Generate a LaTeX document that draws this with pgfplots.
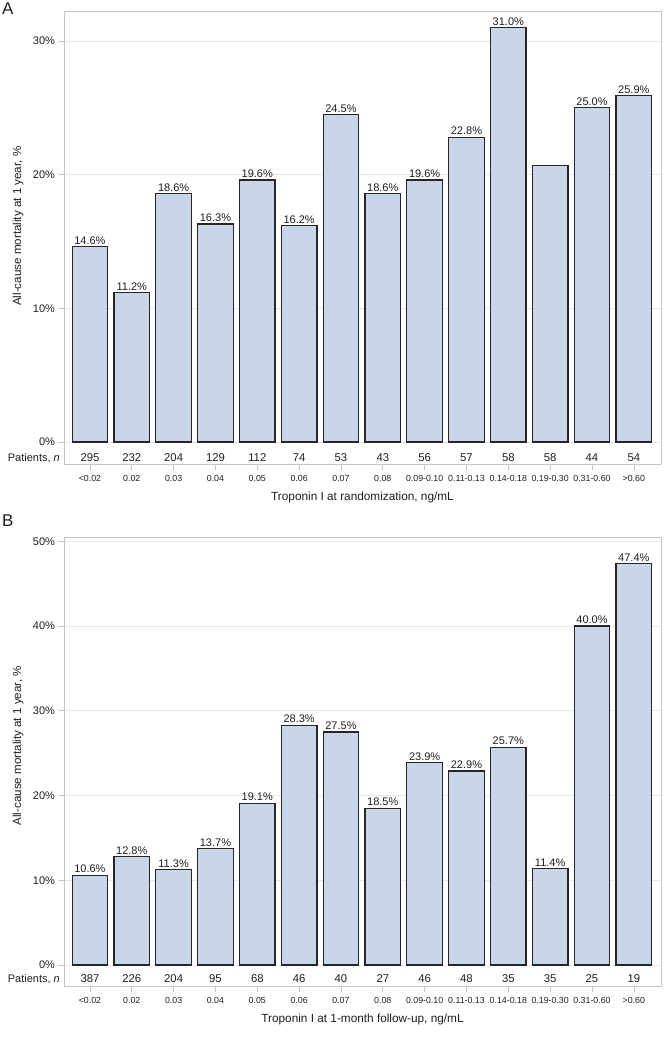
\documentclass[border=0pt]{standalone}
\usepackage{fontspec}
\setmainfont{Liberation Sans}
\usepackage{pgfplots}
\pgfplotsset{compat=1.18}
\definecolor{barfill}{HTML}{C9D5E8}
\definecolor{baredge}{HTML}{262626}
\definecolor{framec}{HTML}{C6C6C6}
\definecolor{gridc}{HTML}{E4E7EB}
\definecolor{txt}{HTML}{1E1E1E}
\newcommand\fs[1]{\fontsize{#1}{#1}\selectfont}
\pgfplotsset{
  panel/.style={
    scale only axis, width=597pt,
    xmin=-0.62, xmax=13.65,
    xtick={0,...,13},
    xticklabels={<0.02,0.02,0.03,0.04,0.05,0.06,0.07,0.08,0.09-0.10,0.11-0.13,0.14-0.18,0.19-0.30,0.31-0.60,>0.60},
    xtick pos=bottom, ytick pos=left,
    tick align=outside,
    x tick style={draw=framec, line width=0.6pt},
    y tick style={draw=framec, line width=0.6pt},
    major tick length=5.5pt,
    axis line style={draw=framec, line width=0.8pt},
    ymajorgrids, grid style={draw=gridc, line width=0.7pt},
    xticklabel style={font=\fs{8.8}, text=txt, yshift=-2.5pt},
    yticklabel style={font=\fs{11}, text=txt},
    xlabel style={font=\fs{11.8}, text=txt, at={(rel axis cs:0.5,0)}, anchor=center, yshift=-33pt},
    ylabel style={font=\fs{11.6}, text=txt, anchor=center},
    clip=false,
    /pgf/number format/assume math mode=true,
  },
  bars/.style={ybar, bar width=0.85, fill=barfill, draw=baredge, line width=1.2pt,
    nodes near coords, point meta=explicit symbolic,
    every node near coord/.style={anchor=south, font=\fs{11}, text=txt, inner sep=1.5pt}},
  pats/.style={draw=none, mark=none, nodes near coords, point meta=explicit symbolic,
    every node near coord/.style={anchor=center, font=\fs{11.3}, text=txt, inner sep=0pt}},
}
\begin{document}
\begin{tikzpicture}
\useasboundingbox (0pt,0pt) rectangle (669pt,-1038pt);
% Panel A
\begin{axis}[panel, at={(64pt,-11pt)}, anchor=north west, height=453pt,
  ymin=-1.65, ymax=32.24,
  ytick={0,10,20,30}, yticklabels={0\%,10\%,20\%,30\%},
  xlabel={Troponin I at randomization, ng/mL},
  ylabel={All-cause mortality at 1 year, \%},
  ylabel style={at={(axis description cs:-0.077,0.525)}}]
\addplot[bars] coordinates {
 (0,14.6)[14.6\%] (1,11.2)[11.2\%] (2,18.6)[18.6\%] (3,16.3)[16.3\%]
 (4,19.6)[19.6\%] (5,16.2)[16.2\%] (6,24.5)[24.5\%] (7,18.6)[18.6\%]
 (8,19.6)[19.6\%] (9,22.8)[22.8\%] (10,31.0)[31.0\%] (11,20.7)[]
 (12,25.0)[25.0\%] (13,25.9)[25.9\%]};
\addplot[pats] coordinates {
 (0,-1.2)[295] (1,-1.2)[232] (2,-1.2)[204] (3,-1.2)[129] (4,-1.2)[112]
 (5,-1.2)[74] (6,-1.2)[53] (7,-1.2)[43] (8,-1.2)[56] (9,-1.2)[57]
 (10,-1.2)[58] (11,-1.2)[58] (12,-1.2)[44] (13,-1.2)[54]};
\node[anchor=east, font=\fs{11}, text=txt, inner sep=0pt, xshift=-4pt] at (axis cs:-0.62,-1.2) {Patients, \textit{n}};
\end{axis}
% Panel B
\begin{axis}[panel, at={(64pt,-537pt)}, anchor=north west, height=449pt,
  ymin=-2.48, ymax=50.5,
  ytick={0,10,20,30,40,50}, yticklabels={0\%,10\%,20\%,30\%,40\%,50\%},
  xlabel={Troponin I at 1-month follow-up, ng/mL},
  ylabel={All-cause mortality at 1 year, \%},
  ylabel style={at={(axis description cs:-0.077,0.535)}}]
\addplot[bars] coordinates {
 (0,10.6)[10.6\%] (1,12.8)[12.8\%] (2,11.3)[11.3\%] (3,13.7)[13.7\%]
 (4,19.1)[19.1\%] (5,28.3)[28.3\%] (6,27.5)[27.5\%] (7,18.5)[18.5\%]
 (8,23.9)[23.9\%] (9,22.9)[22.9\%] (10,25.7)[25.7\%] (11,11.4)[11.4\%]
 (12,40.0)[40.0\%] (13,47.4)[47.4\%]};
\addplot[pats] coordinates {
 (0,-1.65)[387] (1,-1.65)[226] (2,-1.65)[204] (3,-1.65)[95] (4,-1.65)[68]
 (5,-1.65)[46] (6,-1.65)[40] (7,-1.65)[27] (8,-1.65)[46] (9,-1.65)[48]
 (10,-1.65)[35] (11,-1.65)[35] (12,-1.65)[25] (13,-1.65)[19]};
\node[anchor=east, font=\fs{11}, text=txt, inner sep=0pt, xshift=-4pt] at (axis cs:-0.62,-1.65) {Patients, \textit{n}};
\end{axis}
\node[anchor=north west, font=\fs{17}, text=txt, inner sep=0pt] at (2pt,-3pt) {A};
\node[anchor=north west, font=\fs{17}, text=txt, inner sep=0pt] at (2pt,-515pt) {B};
\end{tikzpicture}
\end{document}
